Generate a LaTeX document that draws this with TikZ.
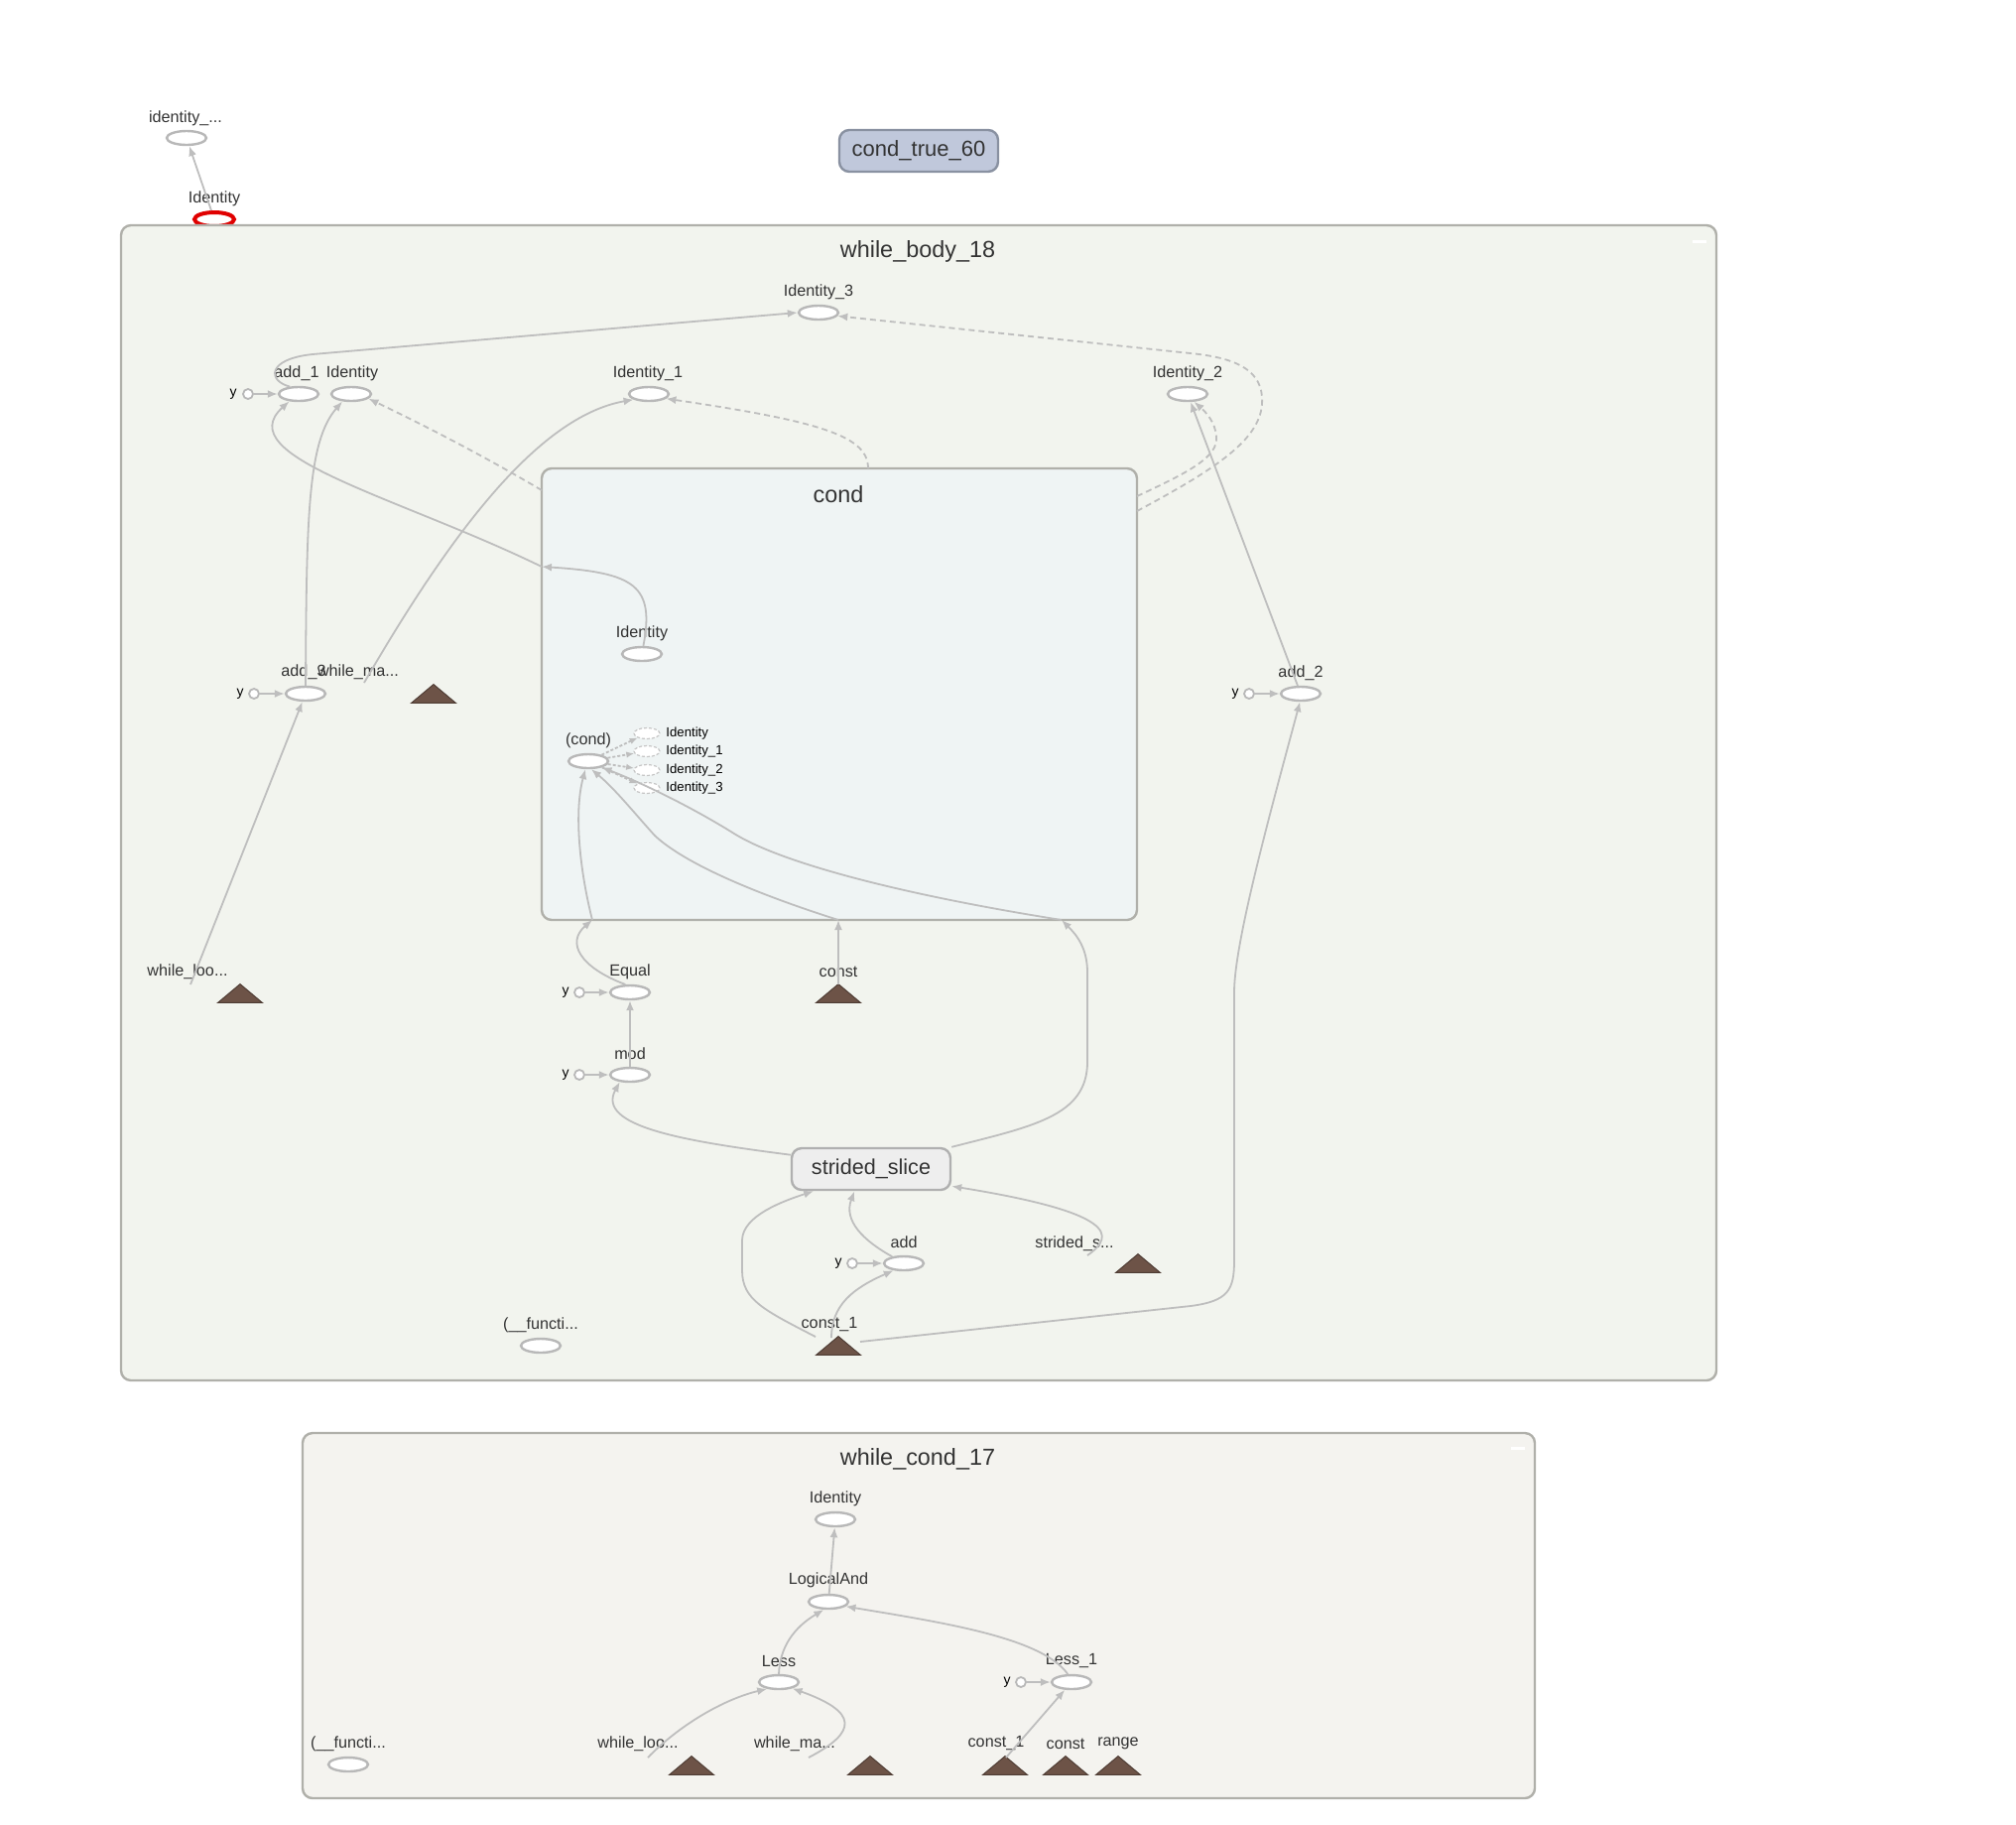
\documentclass[tikz,border=0pt]{standalone}
\usepackage{fontspec}
\setmainfont{Liberation Sans}
\usetikzlibrary{arrows.meta,positioning,shapes.geometric,calc}
\definecolor{bodybg}{RGB}{242,244,238}
\definecolor{condbg}{RGB}{239,244,244}
\definecolor{wcondbg}{RGB}{244,243,239}
\definecolor{clusterline}{RGB}{176,176,170}
\definecolor{edgegray}{RGB}{190,190,190}
\definecolor{opline}{RGB}{184,184,184}
\definecolor{txtgray}{RGB}{51,51,51}
\definecolor{cstfill}{RGB}{109,83,71}
\definecolor{cstline}{RGB}{79,61,53}
\definecolor{funcfill}{RGB}{192,200,219}
\definecolor{funcline}{RGB}{137,145,161}
\definecolor{sliceline}{RGB}{176,176,176}
\definecolor{slicefill}{RGB}{238,238,238}
\definecolor{hilite}{RGB}{224,0,0}

\begin{document}
\begin{tikzpicture}[x=0.5pt, y=-0.5pt,
    op/.style={ellipse, draw=opline, line width=1.2pt, fill=white, minimum width=20pt, minimum height=7pt, inner sep=0pt},
    ghost/.style={ellipse, draw=opline!80, dash pattern=on 1.5pt off 1pt, line width=0.6pt, fill=white, minimum width=13pt, minimum height=5.5pt, inner sep=0pt},
    cst/.style={rectangle, minimum width=22pt, minimum height=9pt, inner sep=0pt},
    yin/.style={circle, draw=opline, line width=0.9pt, fill=white, minimum size=5pt, inner sep=0pt},
    lbl/.style={text=txtgray, inner sep=0pt, font=\fontsize{8.1}{9}\selectfont},
    ylbl/.style={text=black, inner sep=0pt, font=\fontsize{7}{8}\selectfont},
    glbl/.style={text=black, inner sep=0pt, anchor=west, font=\fontsize{6.6}{7.5}\selectfont},
    title/.style={text=txtgray, inner sep=0pt, font=\fontsize{11.7}{13}\selectfont},
    cluster/.style={draw=clusterline, line width=1.2pt, rounded corners=5pt},
    edge/.style={draw=edgegray, line width=0.9pt, -{Latex[length=5pt,width=4pt]}},
    dedge/.style={edge, dash pattern=on 3pt off 2pt},
  ]
  \useasboundingbox (0,0) rectangle (2032,1838);

  % top level
  \node[lbl] (idtop-l) at (187,119) {identity\_...};
  \node[op] (idtop) at (188,139) {};
  \node[lbl] (idred-l) at (216,200) {Identity};
  \node[op, draw=hilite, line width=2pt] (idred) at (216,221) {};
  \node[draw=funcline, fill=funcfill, line width=1.2pt, rounded corners=5pt, minimum width=80pt, minimum height=21pt, inner sep=0pt, text=txtgray, font=\fontsize{11}{12}\selectfont] (condtrue) at (926,152) {cond\_true\_60};

  % while_body_18
  \draw[cluster, fill=bodybg] (122,227) rectangle (1730,1391);
  \node[title] (body-t) at (925,253) {while\_body\_18};
  \draw[white, line width=1.5pt] (1706,243) -- (1720,243);
  \draw[edge] (idred) -- (idtop);

  \draw[cluster, fill=condbg] (546,472) rectangle (1146,927);
  \node[title] (cond-t) at (845,498) {cond};

  \node[op] (id3) at (825,315) {};  \node[lbl] (id3-l) at (825,294) {Identity\_3};
  \node[op] (add1) at (301,397) {}; \node[lbl] (add1-l) at (299,376) {add\_1};
  \node[yin] (add1-y) at (250,397) {}; \node[ylbl] (add1-yl) at (235,397) {y};
  \node[op] (idb) at (354,397) {};  \node[lbl] (idb-l) at (355,376) {Identity};
  \node[op] (id1) at (654,397) {};  \node[lbl] (id1-l) at (653,376) {Identity\_1};
  \node[op] (id2) at (1197,397) {}; \node[lbl] (id2-l) at (1197,376) {Identity\_2};
  \node[op] (add3) at (308,699) {}; \node[lbl] (add3-l) at (306,677) {add\_3};
  \node[yin] (add3-y) at (256,699) {}; \node[ylbl] (add3-yl) at (242,699) {y};
  \node[cst] (wma) at (437,699) {}; \node[lbl] (wma-l) at (361,677) {while\_ma...};
  \node[op] (add2) at (1311,699) {}; \node[lbl] (add2-l) at (1311,678) {add\_2};
  \node[yin] (add2-y) at (1259,699) {}; \node[ylbl] (add2-yl) at (1245,699) {y};
  \node[cst] (wloo) at (242,1001) {}; \node[lbl] (wloo-l) at (189,979) {while\_loo...};
  \node[op] (equal) at (635,1000) {}; \node[lbl] (equal-l) at (635,979) {Equal};
  \node[yin] (equal-y) at (584,1000) {}; \node[ylbl] (equal-yl) at (570,1000) {y};
  \node[cst] (cstn) at (845,1001) {}; \node[lbl] (cstn-l) at (845,979) {const};
  \node[op] (mod) at (635,1083) {}; \node[lbl] (mod-l) at (635,1062) {mod};
  \node[yin] (mod-y) at (584,1083) {}; \node[ylbl] (mod-yl) at (570,1083) {y};
  \node[draw=sliceline, fill=slicefill, line width=1.2pt, rounded corners=5pt, minimum width=80pt, minimum height=21pt, inner sep=0pt, text=txtgray, font=\fontsize{10.8}{12}\selectfont] (ss) at (878,1178) {strided\_slice};
  \node[op] (add) at (911,1273) {}; \node[lbl] (add-l) at (911,1252) {add};
  \node[yin] (add-y) at (859,1273) {}; \node[ylbl] (add-yl) at (845,1273) {y};
  \node[cst] (sss) at (1147,1273) {}; \node[lbl] (sss-l) at (1083,1253) {strided\_s...};
  \node[op] (func) at (545,1356) {}; \node[lbl] (func-l) at (545,1335) {(\_\_functi...};
  \node[cst] (cst1) at (845,1356) {}; \node[lbl] (cst1-l) at (836,1335) {const\_1};

  % inside cond
  \node[op] (idc) at (647,659) {}; \node[lbl] (idc-l) at (647,638) {Identity};
  \node[op] (condn) at (593,767) {}; \node[lbl] (condn-l) at (593,746) {(cond)};
  \foreach \i/\yy/\t in {0/739/Identity, 1/757/Identity\_1, 2/776/Identity\_2, 3/794/Identity\_3} {
    \node[ghost] (g\i) at (652,\yy) {};
    \node[glbl] (g\i-l) at (671,\yy) {\t};
    \draw[edge, dash pattern=on 1.5pt off 1pt, -{Latex[length=4pt,width=3.2pt]}] (condn) -- (g\i);
  }

  % while_cond_17
  \draw[cluster, fill=wcondbg] (305,1444) rectangle (1547,1812);
  \node[title] (wcond-t) at (925,1470) {while\_cond\_17};
  \draw[white, line width=1.5pt] (1523,1459) -- (1537,1459);
  \node[op] (wcid) at (842,1531) {}; \node[lbl] (wcid-l) at (842,1510) {Identity};
  \node[op] (land) at (835,1614) {}; \node[lbl] (land-l) at (835,1592) {LogicalAnd};
  \node[op] (less) at (785,1695) {}; \node[lbl] (less-l) at (785,1674) {Less};
  \node[op] (less1) at (1080,1695) {}; \node[lbl] (less1-l) at (1080,1674) {Less\_1};
  \node[yin] (less1-y) at (1029,1695) {}; \node[ylbl] (less1-yl) at (1015,1695) {y};
  \node[op] (func2) at (351,1778) {}; \node[lbl] (func2-l) at (351,1757) {(\_\_functi...};
  \node[cst] (wl2) at (697,1779) {}; \node[lbl] (wl2-l) at (643,1757) {while\_loo...};
  \node[cst] (wm2) at (877,1779) {}; \node[lbl] (wm2-l) at (801,1757) {while\_ma...};
  \node[cst] (wc1) at (1013,1779) {}; \node[lbl] (wc1-l) at (1004,1757) {const\_1};
  \node[cst] (wc) at (1074,1779) {}; \node[lbl] (wc-l) at (1074,1757) {const};
  \node[cst] (wrange) at (1127,1779) {}; \node[lbl] (wrange-l) at (1127,1757) {range};

  % constants
  \foreach \t in {wma,wloo,cstn,sss,cst1,wl2,wm2,wc1,wc,wrange}
    \filldraw[fill=cstfill, draw=cstline, line width=0.5pt] (\t.south west) -- (\t.south east) -- (\t.north) -- cycle;

  % edges in while_body_18
  \foreach \n in {add1,add3,add2,equal,mod,add}
    \draw[edge] (\n-y) -- (\n);
  \draw[edge] (add1.140) .. controls (270,384) and (268,362) .. (315,357) -- (id3.west);
  \coordinate (cexit) at (546,571);
  \draw[edge] (idc.80) .. controls (660,590) and (640,577) .. (cexit);
  \draw[edge] (cexit) .. controls (400,500) and (230,460) .. (add1.218);
  \draw[edge] (add3.north) .. controls (309,520) and (310,445) .. (idb.220);
  \coordinate (wmaout) at (367,688);
  \draw[edge] (wmaout) .. controls (450,545) and (540,420) .. (id1.200);
  \draw[edge] (add2) -- (id2);
  \coordinate (wlooout) at (192,992);
  \draw[edge] (wlooout) -- (add3);
  \coordinate (c1out) at (867,1352);
  \draw[edge] (c1out) -- (1200,1316) .. controls (1238,1311) and (1244,1300) .. (1244,1270) -- (1244,1000) .. controls (1244,950) and (1280,820) .. (add2.265);
  \coordinate (eqin) at (597,927);
  \draw[edge] (equal.120) .. controls (585,975) and (570,950) .. (eqin);
  \draw[edge] (eqin) .. controls (585,880) and (578,820) .. (condn.250);
  \coordinate (cin) at (845,927);
  \draw[edge] (cstn.north) -- (cin);
  \draw[edge] (cin) .. controls (760,900) and (690,870) .. (660,842) .. controls (640,820) and (620,795) .. (condn.290);
  \coordinate (ssin) at (1070,927);
  \draw[edge] (ss.north east) .. controls (1040,1135) and (1096,1125) .. (1096,1070) -- (1096,980) .. controls (1096,955) and (1085,942) .. (ssin);
  \draw[edge] (ssin) .. controls (900,900) and (785,868) .. (740,840) .. controls (700,815) and (650,790) .. (condn.335);
  \draw[edge] (ss.170) .. controls (690,1150) and (600,1135) .. (mod.215);
  \draw[edge] (mod) -- (equal);
  \coordinate (c1a) at (822,1347);
  \draw[edge] (c1a) .. controls (770,1320) and (748,1310) .. (748,1280) -- (748,1250) .. controls (748,1225) and (790,1210) .. (ss.201);
  \draw[edge] (add.150) .. controls (870,1250) and (850,1230) .. (ss.233);
  \coordinate (c1b) at (838,1348);
  \draw[edge] (c1b) .. controls (838,1315) and (860,1298) .. (add.215);
  \coordinate (sssout) at (1096,1265);
  \draw[edge] (sssout) .. controls (1125,1245) and (1125,1222) .. (ss.348);
  % dashed edges out of cond
  \coordinate (cdA) at (546,494);
  \draw[dedge] (cdA) .. controls (480,455) and (420,425) .. (idb.345);
  \coordinate (cdB) at (875,472);
  \draw[dedge] (cdB) .. controls (875,440) and (830,425) .. (id1.345);
  \coordinate (cdC) at (1146,500);
  \draw[dedge] (cdC) .. controls (1200,475) and (1228,460) .. (1226,440) .. controls (1225,425) and (1215,415) .. (id2.310);
  \coordinate (cdD) at (1146,515);
  \draw[dedge] (cdD) .. controls (1230,470) and (1275,440) .. (1272,400) .. controls (1270,370) and (1240,360) .. (1200,356) -- (id3.350);

  % edges in while_cond_17
  \draw[edge] (land) -- (wcid);
  \draw[edge] (less.north) .. controls (786,1660) and (800,1640) .. (land.240);
  \draw[edge] (less1.115) .. controls (1050,1650) and (950,1635) .. (land.345);
  \coordinate (wl2out) at (653,1771);
  \draw[edge] (wl2out) .. controls (685,1738) and (730,1712) .. (less.210);
  \coordinate (wm2out) at (815,1771);
  \draw[edge] (wm2out) .. controls (865,1745) and (865,1725) .. (less.335);
  \coordinate (wc1out) at (1014,1771);
  \draw[edge] (wc1out) -- (less1);
  \draw[edge] (less1-y) -- (less1);
\end{tikzpicture}
\end{document}
